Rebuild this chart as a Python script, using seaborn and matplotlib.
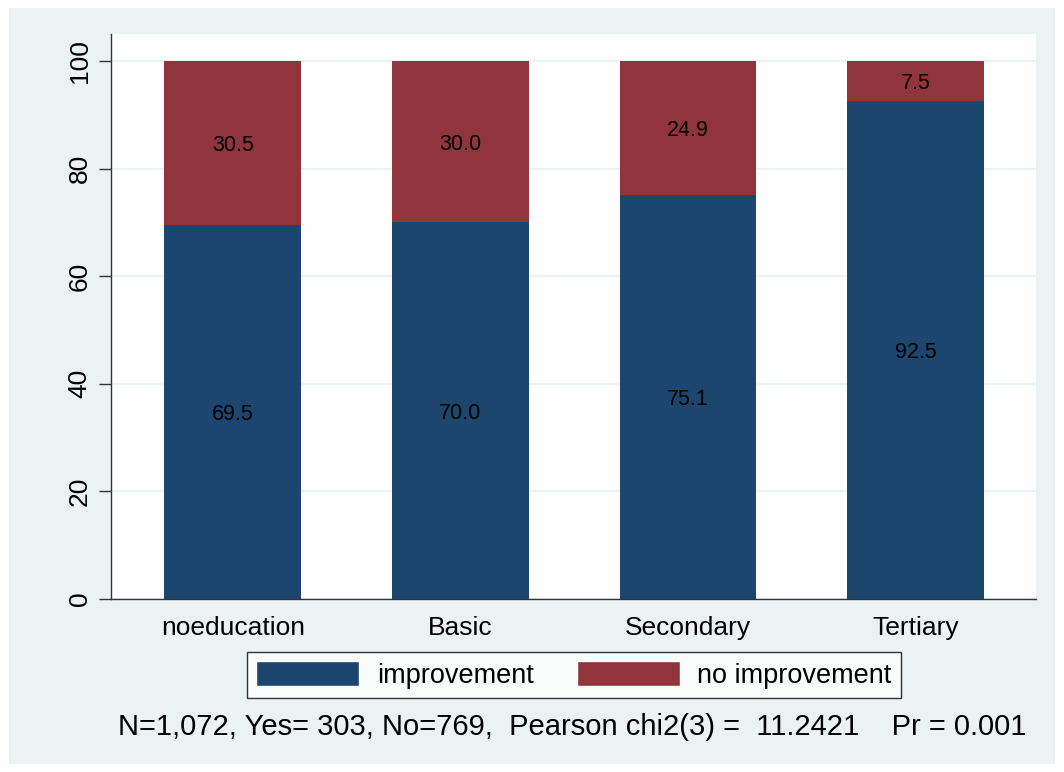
import pandas as pd
import numpy as np
import seaborn as sns
import matplotlib.pyplot as plt
from matplotlib.patches import Rectangle, Patch

# data
categories = ["noeducation", "Basic", "Secondary", "Tertiary"]
improvement = [69.5, 70.0, 75.1, 92.5]
no_improvement = [30.5, 30.0, 24.9, 7.5]
footnote = "N=1,072, Yes= 303, No=769,  Pearson chi2(3) =  11.2421    Pr = 0.001"

blue = "#1C466E"
red = "#90353B"
bg = "#EAF2F3"

sns.set_style("white")
plt.rcParams["font.family"] = ["Liberation Sans", "DejaVu Sans"]
plt.rcParams["text.color"] = "black"
plt.rcParams["xtick.color"] = "black"
plt.rcParams["ytick.color"] = "black"

df = pd.DataFrame({"edu": categories, "improvement": improvement,
                   "no improvement": no_improvement})
df["total"] = df["improvement"] + df["no improvement"]

fig = plt.figure(figsize=(10.64, 7.72), dpi=100)
fig.patch.set_facecolor("white")
fig.patches.append(Rectangle((9 / 1064, 8 / 772), 1 - 18 / 1064, 1 - 16 / 772,
                             transform=fig.transFigure, facecolor=bg,
                             edgecolor="none", zorder=-10))
ax = fig.add_axes([111 / 1064, 1 - 599 / 772, (1036 - 111) / 1064, (599 - 34) / 772])
ax.set_facecolor("white")

# stacked: draw total first (red), then improvement (blue) on top
sns.barplot(data=df, x="edu", y="total", color=red, width=0.6, ax=ax,
            saturation=1, linewidth=0, zorder=3)
sns.barplot(data=df, x="edu", y="improvement", color=blue, width=0.6, ax=ax,
            saturation=1, linewidth=0, zorder=4)

for i, (a, b) in enumerate(zip(improvement, no_improvement)):
    ax.text(i, a / 2, f"{a:.1f}", ha="center", va="center_baseline", fontsize=15.5, zorder=5)
    ax.text(i, a + b / 2, f"{b:.1f}", ha="center", va="center_baseline", fontsize=15.5, zorder=5)

ax.set_xlim(-0.535, 3.53)
ax.set_ylim(0, 105)
ax.set_yticks([0, 20, 40, 60, 80, 100])
ax.set_yticklabels([0, 20, 40, 60, 80, 100], rotation=90, va="center", fontsize=19)
ax.tick_params(axis="x", labelsize=19, length=0, pad=12)
ax.tick_params(axis="y", left=True, length=9, width=1, color="#333333", pad=5)
ax.set_xlabel("")
ax.set_ylabel("")
ax.grid(axis="y", color=bg, linewidth=1.5, zorder=0)
ax.set_axisbelow(True)
for s in ["top", "right"]:
    ax.spines[s].set_visible(False)
for s in ["left", "bottom"]:
    ax.spines[s].set_color("#333333")
    ax.spines[s].set_linewidth(1)

handles = [Patch(facecolor=blue, label="improvement"),
           Patch(facecolor=red, label="no improvement")]
leg = fig.legend(handles=handles, loc="center", bbox_to_anchor=(574 / 1064, 1 - 675 / 772),
                 ncol=2, fontsize=19.5, frameon=True, fancybox=False, edgecolor="black",
                 handlelength=3.8, handleheight=1.05, columnspacing=1.6, handletextpad=0.65,
                 borderpad=0.35, borderaxespad=0)
leg.get_frame().set_linewidth(1)

fig.text(572 / 1064, 1 - 727 / 772, footnote, ha="center", va="center", fontsize=21)

fig.savefig("out.png", dpi=100, facecolor=fig.get_facecolor())
